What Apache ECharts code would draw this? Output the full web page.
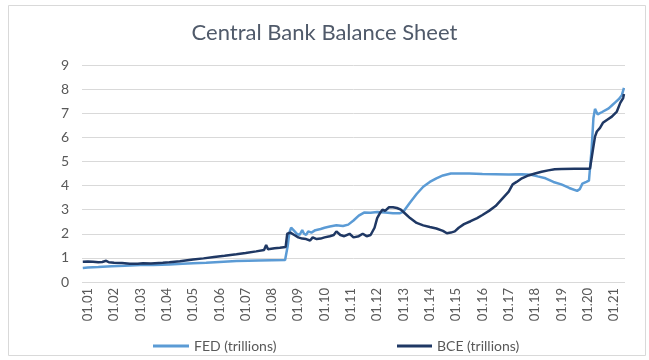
<!DOCTYPE html>
<html>
<head>
<meta charset="utf-8">
<script src="https://cdn.jsdelivr.net/npm/echarts@6/dist/echarts.min.js"></script>
<style>
  html, body { margin: 0; padding: 0; background: #ffffff; }
  #chart { width: 649px; height: 360px; }
</style>
</head>
<body>
<div id="chart"></div>
<script>
// Balance sheets of the Fed and the ECB, in trillions, by decimal year
const fedDates = [2000.81, 2001.0, 2001.4, 2001.9, 2002.4, 2003.0, 2003.5, 2004.1, 2004.6, 2005.0, 2005.5, 2006.0, 2006.65, 2007.1, 2007.5, 2008.0, 2008.5, 2008.53, 2008.6, 2008.66, 2008.73, 2008.82, 2008.95, 2009.05, 2009.15, 2009.22, 2009.3, 2009.38, 2009.5, 2009.65, 2009.85, 2010.0, 2010.2, 2010.45, 2010.7, 2010.9, 2011.1, 2011.3, 2011.5, 2011.75, 2012.0, 2012.3, 2012.6, 2012.85, 2013.0, 2013.25, 2013.5, 2013.75, 2014.0, 2014.25, 2014.5, 2014.8, 2015.0, 2015.5, 2016.0, 2016.5, 2017.0, 2017.5, 2017.85, 2018.1, 2018.4, 2018.7, 2019.0, 2019.3, 2019.6, 2019.7, 2019.8, 2019.95, 2020.05, 2020.1, 2020.15, 2020.22, 2020.28, 2020.38, 2020.55, 2020.8, 2020.95, 2021.05, 2021.2, 2021.3, 2021.38];
const fedValues = [0.58, 0.6, 0.62, 0.65, 0.67, 0.7, 0.71, 0.73, 0.76, 0.78, 0.8, 0.83, 0.87, 0.88, 0.89, 0.9, 0.91, 0.91, 1.5, 2.05, 2.25, 2.15, 2.0, 1.95, 2.15, 2.0, 1.95, 2.1, 2.05, 2.15, 2.2, 2.25, 2.3, 2.35, 2.32, 2.38, 2.55, 2.75, 2.88, 2.87, 2.9, 2.88, 2.85, 2.85, 2.92, 3.3, 3.65, 3.95, 4.15, 4.3, 4.42, 4.5, 4.5, 4.5, 4.48, 4.47, 4.46, 4.47, 4.45, 4.38, 4.3, 4.15, 4.05, 3.9, 3.78, 3.85, 4.08, 4.15, 4.2, 4.25, 5.5, 6.8, 7.18, 6.95, 7.05, 7.2, 7.35, 7.45, 7.6, 7.75, 8.05];

const bceDates = [2000.81, 2001.0, 2001.2, 2001.4, 2001.55, 2001.7, 2001.8, 2002.0, 2002.3, 2002.6, 2002.9, 2003.1, 2003.4, 2003.85, 2004.1, 2004.5, 2005.0, 2005.4, 2005.8, 2006.2, 2006.65, 2007.0, 2007.4, 2007.7, 2007.78, 2007.85, 2008.1, 2008.3, 2008.52, 2008.58, 2008.7, 2008.85, 2009.0, 2009.15, 2009.3, 2009.45, 2009.55, 2009.7, 2009.85, 2010.0, 2010.2, 2010.35, 2010.45, 2010.6, 2010.75, 2010.95, 2011.1, 2011.3, 2011.45, 2011.6, 2011.75, 2011.9, 2012.0, 2012.1, 2012.2, 2012.3, 2012.45, 2012.6, 2012.75, 2012.9, 2013.05, 2013.25, 2013.5, 2013.75, 2014.0, 2014.25, 2014.5, 2014.65, 2014.8, 2014.95, 2015.1, 2015.3, 2015.55, 2015.8, 2016.0, 2016.25, 2016.5, 2016.75, 2017.0, 2017.15, 2017.3, 2017.5, 2017.75, 2018.0, 2018.25, 2018.5, 2018.75, 2019.0, 2019.5, 2019.9, 2020.09, 2020.2, 2020.28, 2020.35, 2020.47, 2020.58, 2020.73, 2020.92, 2021.11, 2021.24, 2021.35, 2021.38];
const bceValues = [0.84, 0.85, 0.84, 0.82, 0.83, 0.88, 0.82, 0.8, 0.79, 0.76, 0.76, 0.78, 0.77, 0.8, 0.82, 0.86, 0.93, 0.98, 1.04, 1.09, 1.15, 1.2, 1.27, 1.33, 1.53, 1.36, 1.4, 1.42, 1.45, 2.0, 2.05, 1.95, 1.85, 1.8, 1.78, 1.72, 1.85, 1.78, 1.8, 1.85, 1.9, 1.95, 2.1, 1.95, 1.9, 2.0, 1.85, 1.9, 2.0, 1.9, 1.95, 2.25, 2.65, 2.85, 3.0, 2.95, 3.1, 3.1, 3.07, 3.0, 2.85, 2.65, 2.45, 2.35, 2.28, 2.22, 2.12, 2.02, 2.05, 2.1, 2.25, 2.4, 2.52, 2.65, 2.78, 2.95, 3.15, 3.45, 3.75, 4.05, 4.15, 4.3, 4.42, 4.5, 4.57, 4.63, 4.68, 4.69, 4.7, 4.7, 4.7, 5.48, 6.03, 6.24, 6.39, 6.6, 6.72, 6.86, 7.07, 7.43, 7.63, 7.8];

// x-axis ticks: January of each year, labelled "01.YY"
const tickYears = [2001, 2002, 2003, 2004, 2005, 2006, 2007, 2008, 2009, 2010, 2011, 2012, 2013, 2014, 2015, 2016, 2017, 2018, 2019, 2020, 2021];
const tickLabels = ['01.01', '01.02', '01.03', '01.04', '01.05', '01.06', '01.07', '01.08', '01.09', '01.10', '01.11', '01.12', '01.13', '01.14', '01.15', '01.16', '01.17', '01.18', '01.19', '01.20', '01.21'];

const seriesNames = ['FED (trillions)', 'BCE (trillions)'];
const fedColor = '#5b9bd5';
const bceColor = '#1f3864';

const pairs = (xs, ys) => xs.map((x, i) => [x, ys[i]]);

const chart = echarts.init(document.getElementById('chart'), null, { renderer: 'canvas' });
const fontFamily = 'Lato, "Open Sans", sans-serif';

chart.setOption({
  animation: false,
  backgroundColor: '#ffffff',
  textStyle: { fontFamily },
  graphic: [{
    type: 'rect',
    shape: { x: 8.5, y: 5.5, width: 637, height: 350 },
    style: { fill: 'none', stroke: '#d9d9d9', lineWidth: 1 },
    silent: true
  }],
  title: {
    text: 'Central Bank Balance Sheet',
    left: 'center',
    top: 17,
    textStyle: { fontFamily, fontSize: 22, fontWeight: 'normal', color: '#505a6a' }
  },
  legend: [
    {
      data: [seriesNames[0]],
      left: 153, top: 339, padding: 0,
      icon: 'rect', itemWidth: 36, itemHeight: 3, itemGap: 4,
      textStyle: { fontFamily, fontSize: 14, color: '#595959' }
    },
    {
      data: [seriesNames[1]],
      left: 397, top: 339, padding: 0,
      icon: 'rect', itemWidth: 35, itemHeight: 3, itemGap: 4,
      textStyle: { fontFamily, fontSize: 14, color: '#595959' }
    }
  ],
  grid: { left: 82, right: 24, top: 65, bottom: 78, containLabel: false },
  xAxis: {
    type: 'value',
    min: 2000.78,
    max: 2021.42,
    axisLine: { show: false },
    axisTick: { show: false },
    splitLine: { show: false },
    axisLabel: {
      customValues: tickYears,
      rotate: 90,
      margin: 6,
      fontFamily,
      fontSize: 13,
      color: '#595959',
      formatter: (v) => tickLabels[tickYears.indexOf(Math.round(v))] || ''
    }
  },
  yAxis: {
    type: 'value',
    min: 0,
    max: 9,
    interval: 1,
    axisLine: { show: false },
    axisTick: { show: false },
    splitLine: { lineStyle: { color: '#d9d9d9', width: 1 } },
    axisLabel: { margin: 13, fontFamily, fontSize: 14, color: '#595959' }
  },
  series: [
    {
      name: seriesNames[0],
      type: 'line',
      data: pairs(fedDates, fedValues),
      showSymbol: false,
      color: fedColor,
      lineStyle: { color: fedColor, width: 2.5 }
    },
    {
      name: seriesNames[1],
      type: 'line',
      data: pairs(bceDates, bceValues),
      showSymbol: false,
      color: bceColor,
      lineStyle: { color: bceColor, width: 2.5 }
    }
  ]
});
</script>
</body>
</html>
